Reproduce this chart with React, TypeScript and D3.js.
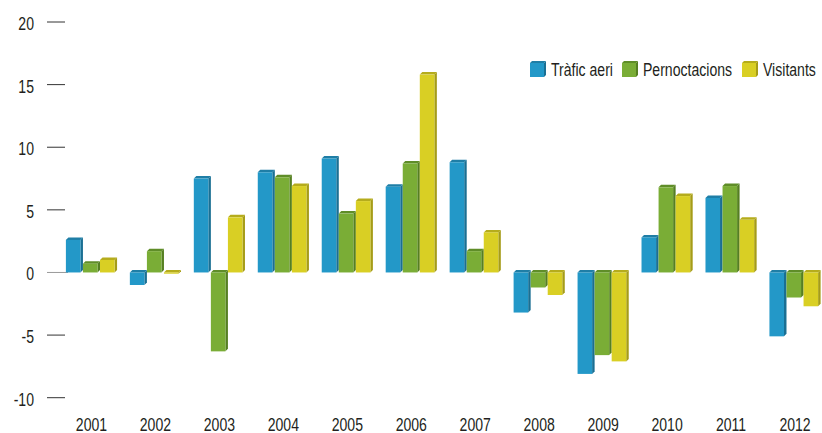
import React from 'react';
import * as d3 from 'd3';

const years = ['2001', '2002', '2003', '2004', '2005', '2006', '2007', '2008', '2009', '2010', '2011', '2012'];
const traficAeri = [2.6, -1.0, 7.5, 8.0, 9.1, 6.85, 8.8, -3.2, -8.1, 2.8, 5.95, -5.1];
const pernoctacions = [0.7, 1.7, -6.3, 7.6, 4.7, 8.7, 1.7, -1.2, -6.6, 6.8, 6.9, -2.0];
const visitants = [1.0, -0.1, 4.4, 6.9, 5.7, 15.8, 3.2, -1.8, -7.1, 6.1, 4.2, -2.7];
const yTicks = [20, 15, 10, 5, 0, -5, -10];

const series = [
  { name: 'Tràfic aeri', values: traficAeri, front: '#2398c8', top: '#1f7ea6', side: '#1a6f93' },
  { name: 'Pernoctacions', values: pernoctacions, front: '#7aad36', top: '#5f8d28', side: '#557f22' },
  { name: 'Visitants', values: visitants, front: '#d9cf24', top: '#b5ac1c', side: '#a59c18' },
];

// legend square positions
const legendX = [530, 622, 742];

const font = '"Liberation Sans", Arimo, "DejaVu Sans", sans-serif';
const FS = 18.5;
const SX = 0.76; // narrow the glyphs, the original uses a condensed face

const W = 822;
const H = 433;
const D = 2.5;

export default function App() {
  const x = d3.scaleBand<string>().domain(years).range([59.5, 827]).paddingInner(0.2).paddingOuter(0.1);
  const x1 = d3.scaleBand<string>().domain(series.map(s => s.name)).range([0, x.bandwidth()]);
  const y = d3.scaleLinear().domain([-10, 20]).range([397.7, 22]);

  const bw = x1.bandwidth();

  return (
    <svg width={W} height={H} style={{ position: 'absolute', left: 0, top: 0 }}>
      <rect width={W} height={H} fill="#fff" />
      {/* y axis ticks */}
      {yTicks.map(t => (
        <g key={t}>
          <line x1={47} x2={t === 0 ? 68 : 65} y1={y(t)} y2={y(t)} stroke={t === 0 ? '#999' : '#333'} strokeWidth={1} />
          <text
            transform={`translate(34,${y(t)}) scale(${SX},1)`}
            dy="0.43em"
            textAnchor="end"
            fontFamily={font}
            fontSize={FS}
            fill="#231f20"
          >
            {t}
          </text>
        </g>
      ))}
      {/* bars */}
      {years.map((yr, i) => (
        <g key={yr}>
          {series.map(s => {
            const v = s.values[i];
            const bx = (x(yr) || 0) + (x1(s.name) || 0);
            const w = bw - D;
            const top = y(Math.max(v, 0));
            const bot = y(Math.min(v, 0));
            return (
              <g key={s.name}>
                <polygon
                  points={`${bx + w},${top} ${bx + w + D},${top - D} ${bx + w + D},${bot - D} ${bx + w},${bot}`}
                  fill={s.side}
                />
                <polygon
                  points={`${bx},${top} ${bx + D},${top - D} ${bx + w + D},${top - D} ${bx + w},${top}`}
                  fill={s.top}
                />
                <rect x={bx} y={top} width={w} height={Math.max(bot - top, 0.5)} fill={s.front} />
              </g>
            );
          })}
          <text
            transform={`translate(${(x(yr) || 0) + x.bandwidth() / 2},430.5) scale(${SX},1)`}
            textAnchor="middle"
            fontFamily={font}
            fontSize={FS}
            fill="#231f20"
          >
            {yr}
          </text>
        </g>
      ))}
      {/* legend */}
      {series.map((s, i) => {
        const lx = legendX[i];
        const ly = 63;
        return (
          <g key={s.name}>
            <polygon points={`${lx + 14},${ly} ${lx + 16},${ly - 2} ${lx + 16},${ly + 12} ${lx + 14},${ly + 14}`} fill={s.side} />
            <polygon points={`${lx},${ly} ${lx + 2},${ly - 2} ${lx + 16},${ly - 2} ${lx + 14},${ly}`} fill={s.top} />
            <rect x={lx} y={ly} width={14} height={14} fill={s.front} />
            <text
              transform={`translate(${lx + 21},${ly + 13}) scale(${SX},1)`}
              fontFamily={font}
              fontSize={FS}
              fill="#231f20"
            >
              {s.name}
            </text>
          </g>
        );
      })}
    </svg>
  );
}
